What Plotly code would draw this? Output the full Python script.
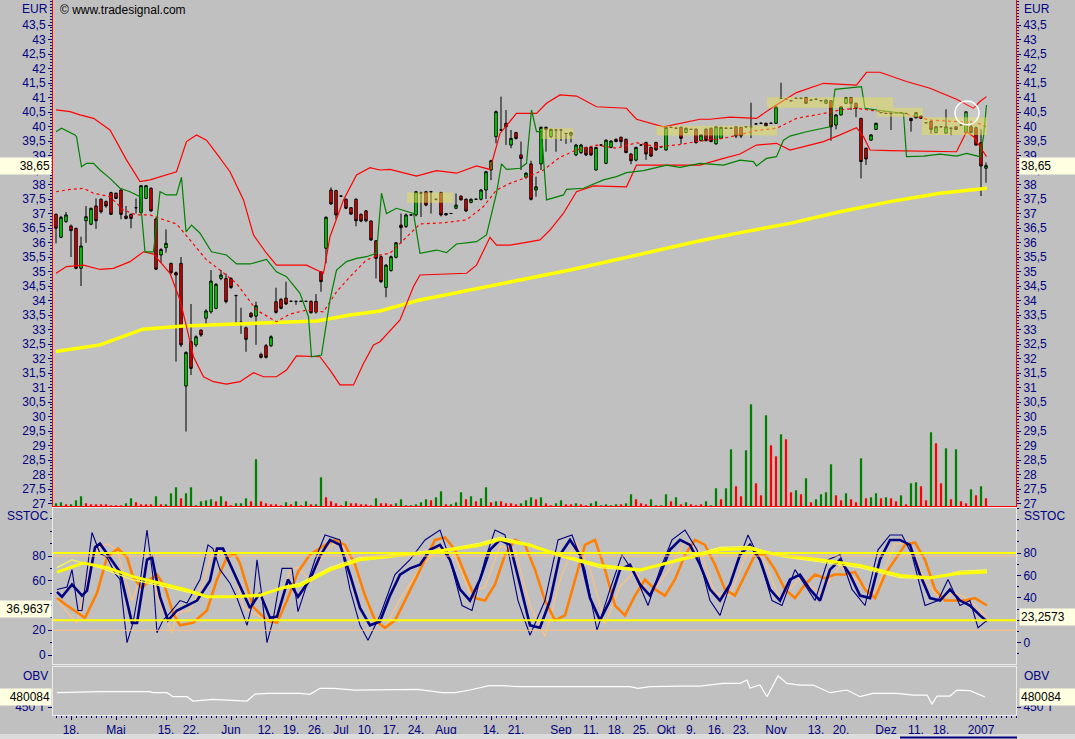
import pandas as pd
import plotly.graph_objects as go

# ---------------- data ----------------
holidays = ["2006-04-14", "2006-04-17", "2006-12-25", "2006-12-26", "2007-01-01"]
trading_days = [d for d in pd.bdate_range("2006-04-11", "2007-01-03")
                if d.strftime("%Y-%m-%d") not in holidays]
day_index = list(range(len(trading_days)))

opens = [36.97, 36.18, 36.72, 36.57, 36.49, 35.11, 36.75, 36.63, 37.26, 37.49,
         37.41, 37.72, 37.70, 37.81, 36.91, 36.97, 37.20, 37.03, 37.52, 37.87,
         36.81, 35.57, 35.82, 35.28, 34.96, 35.28, 31.05, 32.58, 32.47, 32.98,
         33.39, 33.61, 33.73, 34.76, 34.76, 34.76, 34.17, 33.25, 33.06, 33.56,
         33.46, 32.14, 32.44, 32.44, 33.96, 34.04, 34.08, 33.97, 33.97, 33.97,
         33.97, 33.97, 33.97, 34.99, 35.80, 37.81, 37.79, 37.60, 37.49, 37.20,
         37.49, 36.97, 37.09, 36.74, 36.06, 35.51, 34.45, 35.03, 35.49, 36.60,
         36.55, 36.95, 36.95, 37.70, 37.75, 37.75, 37.49, 37.72, 37.00, 37.00,
         37.18, 37.60, 37.49, 37.38, 37.49, 37.49, 37.81, 38.50, 39.65, 39.88,
         40.11, 39.36, 39.79, 39.02, 38.25, 38.71, 37.81, 38.71, 39.97, 39.65,
         39.88, 39.88, 39.76, 39.70, 39.02, 39.10, 39.28, 39.28, 38.50, 39.36,
         38.73, 39.28, 39.56, 39.63, 39.56, 39.05, 38.84, 39.36, 39.45, 39.28,
         39.45, 39.30, 39.19, 39.97, 39.94, 39.97, 39.79, 39.90, 39.91, 39.51,
         39.91, 39.94, 39.40, 39.59, 39.94, 39.94, 39.99, 39.97, 39.99, 39.99,
         40.09, 40.11, 40.11, 40.11, 40.11, 40.97, 40.94, 40.89, 40.97, 40.97,
         41.00, 40.91, 40.94, 40.89, 40.80, 40.89, 40.05, 40.40, 40.80, 41.00,
         40.80, 40.28, 39.25, 39.53, 39.90, 40.48, 40.45, 40.45, 40.48, 40.48,
         40.45, 40.28, 40.30, 40.36, 40.13, 40.17, 39.79, 39.99, 39.77, 39.94,
         39.99, 40.05, 39.79, 39.99, 39.96, 39.44, 38.56]
highs = [37.00, 36.92, 37.05, 36.62, 36.50, 36.20, 37.26, 37.20, 37.52, 37.52,
         37.45, 37.75, 37.72, 37.83, 37.26, 37.00, 37.52, 37.98, 37.98, 37.90,
         36.85, 35.80, 36.45, 35.30, 35.00, 35.50, 32.25, 33.88, 32.80, 33.00,
         33.70, 35.05, 34.60, 35.05, 34.93, 34.80, 34.20, 33.75, 33.10, 33.60,
         33.96, 32.20, 32.50, 32.80, 34.44, 34.08, 34.65, 34.00, 33.98, 33.98,
         33.98, 34.00, 34.22, 35.00, 36.90, 37.90, 37.82, 37.62, 37.52, 37.22,
         37.52, 37.00, 37.12, 36.76, 36.08, 35.55, 35.25, 35.55, 36.02, 37.00,
         37.00, 36.97, 37.78, 37.75, 37.78, 37.78, 37.50, 37.75, 37.02, 37.02,
         37.69, 37.62, 37.52, 37.52, 37.51, 37.84, 38.47, 38.85, 40.55, 41.03,
         40.57, 39.88, 39.82, 39.48, 38.42, 38.82, 38.27, 40.00, 40.00, 39.92,
         39.90, 39.90, 39.78, 39.82, 39.40, 39.40, 39.30, 39.30, 39.30, 39.38,
         39.55, 39.52, 39.58, 39.65, 39.58, 39.08, 39.30, 39.38, 39.47, 39.30,
         39.47, 39.32, 39.99, 39.99, 39.96, 40.00, 39.96, 39.92, 39.93, 39.73,
         39.93, 39.96, 40.01, 39.99, 39.96, 39.96, 40.01, 39.99, 40.01, 40.82,
         40.11, 40.13, 40.13, 40.13, 40.70, 41.51, 40.96, 40.91, 40.99, 40.99,
         41.02, 40.93, 40.96, 40.91, 40.93, 40.91, 40.42, 40.70, 41.02, 41.02,
         40.82, 40.30, 39.27, 39.73, 40.13, 40.50, 40.47, 40.47, 40.50, 40.50,
         40.47, 40.30, 40.50, 40.38, 40.15, 40.19, 40.01, 40.01, 40.59, 39.96,
         40.01, 40.07, 40.53, 40.20, 40.00, 39.90, 38.76]
lows = [35.97, 36.15, 36.68, 35.50, 35.08, 34.50, 35.99, 36.60, 36.47, 37.00,
        37.20, 36.95, 37.50, 36.80, 36.80, 36.49, 37.00, 37.00, 37.50, 37.05,
        35.05, 35.30, 35.65, 34.90, 31.89, 32.40, 29.48, 31.43, 32.40, 32.75,
        33.15, 33.55, 33.70, 34.70, 33.90, 34.40, 33.24, 32.85, 32.23, 33.40,
        32.47, 32.00, 32.00, 32.40, 33.55, 33.70, 33.85, 33.95, 33.85, 33.96,
        33.96, 33.55, 33.55, 34.30, 35.28, 37.30, 36.80, 37.58, 37.15, 36.95,
        36.56, 36.70, 36.70, 36.05, 34.76, 34.60, 34.11, 35.00, 35.45, 35.97,
        36.50, 36.93, 36.90, 36.88, 37.25, 37.00, 37.45, 36.90, 36.93, 36.98,
        37.15, 37.45, 37.05, 37.35, 37.47, 37.45, 37.50, 38.15, 39.42, 39.85,
        39.36, 39.25, 39.55, 38.50, 38.20, 37.45, 37.58, 38.50, 39.13, 39.60,
        39.13, 39.50, 39.40, 39.45, 38.98, 39.05, 38.98, 38.98, 38.48, 39.34,
        38.70, 39.25, 39.46, 39.30, 39.08, 38.70, 38.80, 39.34, 38.85, 38.95,
        39.17, 39.28, 39.17, 39.95, 39.92, 39.40, 39.77, 39.88, 39.42, 39.49,
        39.49, 39.46, 39.38, 39.57, 39.92, 39.92, 39.60, 39.60, 39.97, 39.60,
        40.07, 40.09, 40.00, 40.09, 40.09, 40.95, 40.92, 40.87, 40.95, 40.95,
        40.78, 40.89, 40.92, 40.87, 40.78, 39.51, 39.90, 40.38, 40.78, 40.57,
        40.32, 38.21, 38.67, 39.51, 39.88, 40.46, 40.43, 39.88, 40.46, 40.46,
        40.43, 39.82, 40.28, 40.26, 40.11, 39.75, 39.77, 39.97, 39.75, 39.70,
        39.88, 40.03, 39.77, 39.77, 39.34, 37.60, 38.06]
closes = [36.49, 36.87, 36.95, 36.41, 35.11, 35.88, 36.89, 37.18, 36.75, 37.06,
          37.26, 36.97, 37.52, 36.97, 36.83, 36.83, 37.20, 37.96, 37.96, 37.09,
          35.08, 35.76, 35.97, 34.96, 34.88, 32.47, 32.21, 31.66, 32.75, 32.81,
          33.64, 34.67, 34.56, 34.88, 33.96, 34.45, 34.17, 33.25, 32.66, 33.44,
          33.82, 32.04, 32.04, 32.75, 33.59, 33.73, 33.88, 33.97, 33.97, 33.97,
          33.97, 33.58, 33.60, 34.65, 36.87, 37.33, 36.95, 37.60, 37.18, 36.98,
          36.75, 36.74, 36.75, 36.09, 35.45, 34.65, 35.22, 35.51, 35.99, 36.51,
          36.95, 36.95, 37.75, 37.70, 37.29, 37.75, 37.49, 36.95, 36.95, 37.00,
          37.29, 37.47, 37.09, 37.49, 37.49, 37.81, 38.44, 38.82, 40.51, 39.88,
          39.99, 39.59, 39.59, 38.90, 38.39, 37.49, 37.92, 39.97, 39.90, 39.90,
          39.88, 39.88, 39.76, 39.79, 39.36, 39.36, 39.02, 39.02, 39.28, 39.36,
          39.53, 39.50, 39.48, 39.48, 39.10, 38.82, 39.28, 39.36, 39.05, 38.98,
          39.19, 39.30, 39.97, 39.97, 39.94, 39.59, 39.94, 39.90, 39.44, 39.71,
          39.51, 39.48, 39.99, 39.97, 39.94, 39.94, 39.67, 39.67, 39.99, 39.99,
          40.09, 40.11, 40.02, 40.11, 40.68, 40.97, 40.94, 40.89, 40.97, 40.97,
          40.80, 40.91, 40.94, 40.89, 40.91, 39.99, 40.40, 40.68, 41.00, 40.80,
          40.63, 38.79, 38.88, 39.71, 40.11, 40.48, 40.45, 40.45, 40.48, 40.48,
          40.45, 40.20, 40.48, 40.28, 40.13, 39.90, 39.99, 39.99, 39.99, 39.94,
          39.90, 40.05, 40.51, 39.79, 39.36, 38.64, 38.65]

# volume (thousand shares, relative)
volume = [27, 37, 17, 17, 57, 97, 27, 17, 17, 17,
          17, 7, 7, 7, 27, 77, 37, 17, 17, 17,
          97, 17, 17, 127, 187, 77, 127, 187, 7, 47,
          57, 67, 47, 97, 47, 7, 27, 27, 77, 47,
          467, 47, 27, 17, 17, 7, 37, 17, 47, 7,
          47, 17, 17, 287, 87, 47, 27, 7, 47, 27,
          27, 17, 17, 7, 77, 27, 27, 17, 27, 67,
          7, 7, 17, 37, 67, 57, 87, 147, 17, 17,
          37, 137, 67, 97, 47, 77, 187, 37, 47, 47,
          27, 27, 17, 27, 57, 87, 67, 87, 27, 7,
          27, 57, 17, 17, 27, 17, 7, 27, 47, 7,
          17, 7, 17, 17, 27, 117, 67, 27, 17, 67,
          7, 7, 117, 47, 87, 17, 37, 17, 7, 17,
          47, 7, 177, 67, 177, 567, 197, 97, 557, 1017,
          227, 107, 907, 607, 497, 717, 667, 137, 157, 117,
          277, 37, 67, 117, 137, 417, 107, 57, 127, 67,
          37, 477, 77, 87, 127, 77, 87, 77, 47, 107,
          17, 227, 237, 197, 57, 737, 627, 227, 577, 67,
          567, 47, 27, 167, 107, 197, 77]
volume_dir = ("ggrgggrrrr" "rrrrggrrrr" "grgggrgggg" "ggrgrrgggr" "grrrrrgrgr"
              "grggrrrrgr" "rrrrgrrrgg" "gggggrggrg" "ggrgrggrgr" "rrrgggrgrr"
              "ggrrgrrggg" "gggrggrrrg" "gggrgrgrrr" "gggrggrrgg" "rrgrrgrrgr"
              "grggggrrgr" "rgrggrgrrg" "rggrrgrrgr" "grrgrgr")

# 200-day average
sma_x = [0, 8.8, 17.4, 25.4, 38.8, 52.2, 58.8, 64.8, 72.8, 82.8, 92.8, 102.8,
         116.2, 128.8, 136.8, 146.8, 156.8, 166.8, 176.8, 186.2]
sma_v = [32.24, 32.47, 33.01, 33.12, 33.21, 33.29, 33.50, 33.64, 34.02, 34.36,
         34.71, 35.05, 35.57, 36.06, 36.34, 36.66, 37.06, 37.41, 37.70, 37.87]

# Bollinger bands
bb_up_x = [0, 2.8, 4.8, 7.5, 10.8, 14.1, 16.8, 18.8, 24.1, 26.1, 28.1, 30.1, 32.1,
           34.8, 37.5, 39.5, 42.1, 44.1, 50.1, 53.5, 54.8, 57.5, 60.1, 62.8, 64.8,
           66.8, 72.1, 76.1, 80.1, 84.1, 86.8, 88.8, 92.1, 96.1, 98.1, 100.8, 104.1,
           108.1, 114.1, 116.1, 121.5, 124.8, 128.8, 130.8, 134.8, 140.1, 143.5,
           148.1, 153.5, 160.1, 162.1, 164.8, 170.1, 174.8, 180.1, 183.5, 184.8, 186.1]
bb_up_v = [40.57, 40.51, 40.40, 40.28, 39.88, 38.85, 38.10, 38.16, 38.44, 39.48,
           39.71, 39.53, 39.07, 38.44, 37.47, 36.26, 35.63, 35.22, 35.22, 34.94,
           36.20, 37.47, 38.33, 38.58, 38.50, 38.52, 38.29, 38.48, 38.39, 38.64,
           38.52, 39.76, 40.45, 40.45, 40.80, 41.09, 41.05, 40.68, 40.63, 40.25,
           39.99, 40.11, 40.25, 40.25, 40.32, 40.28, 40.68, 41.17, 41.49, 41.43,
           41.87, 41.87, 41.55, 41.32, 40.94, 40.63, 40.86, 41.03]
bb_lo_x = [0, 2.1, 5.5, 8.8, 11.5, 14.8, 17.5, 19.5, 22.8, 24.8, 26.1, 27.5, 29.5,
           31.5, 34.1, 36.8, 39.5, 41.5, 44.1, 46.1, 48.1, 52.8, 54.8, 56.8, 59.5,
           61.5, 63.5, 64.8, 68.8, 71.5, 72.8, 82.1, 84.1, 86.8, 88.1, 90.8, 93.5,
           96.8, 98.8, 101.5, 104.1, 107.5, 114.1, 116.1, 122.8, 128.8, 133.5,
           136.8, 140.1, 144.1, 146.8, 153.5, 156.8, 160.1, 161.5, 162.8, 166.8,
           180.1, 182.1, 183.5, 184.8, 186.1]
bb_lo_v = [34.94, 35.17, 35.22, 35.07, 35.11, 35.34, 35.68, 35.60, 34.94, 34.02,
           33.10, 32.06, 31.37, 31.20, 31.12, 31.20, 31.51, 31.37, 31.37, 31.60,
           32.09, 32.06, 31.60, 31.09, 31.09, 31.83, 32.47, 32.58, 33.33, 34.48,
           34.88, 34.94, 35.22, 36.18, 35.91, 35.91, 35.99, 36.09, 36.43, 37.01,
           37.75, 37.95, 37.92, 38.67, 38.67, 38.67, 38.90, 39.05, 39.36, 39.42,
           39.19, 39.48, 39.71, 39.96, 39.65, 39.19, 39.17, 39.13, 39.82, 39.65,
           39.30, 38.96]
bb_mid_x = [0, 2.8, 5.5, 7.5, 10.8, 13.5, 16.1, 18.8, 20.8, 24.1, 26.8, 30.1, 32.8,
            36.1, 40.1, 44.1, 46.8, 50.1, 53.5, 56.1, 58.8, 62.1, 64.8, 66.8, 72.8,
            77.5, 82.1, 85.5, 88.1, 90.8, 94.1, 97.5, 100.8, 104.1, 108.1, 112.1,
            116.1, 120.1, 124.1, 128.8, 133.5, 140.1, 144.1, 148.1, 153.5, 156.8,
            160.1, 164.1, 169.5, 174.8, 180.1, 184.1, 186.1]
bb_mid_v = [37.75, 37.83, 37.87, 37.70, 37.58, 37.12, 36.95, 36.95, 36.83, 36.64,
            36.09, 35.40, 35.05, 34.59, 33.67, 33.27, 33.53, 33.67, 33.61, 34.30,
            34.82, 35.40, 35.57, 35.63, 36.64, 36.68, 36.78, 37.24, 37.81, 38.04,
            38.25, 38.50, 38.94, 39.19, 39.36, 39.25, 39.44, 39.30, 39.36, 39.50,
            39.59, 39.86, 39.94, 40.28, 40.45, 40.57, 40.63, 40.53, 40.45, 40.22,
            40.17, 40.13, 39.99]

# green trailing line
grn_x = [0, 1.1, 3.8, 4.1, 5.1, 6.1, 7.5, 8.8, 10.8, 12.8, 14.8, 16.8, 17.8, 19.5,
         20.8, 22.1, 24.1, 25.1, 26.0, 27.1, 28.8, 31.1, 34.1, 36.1, 38.8, 42.1,
         44.1, 46.1, 48.8, 50.5, 51.1, 53.1, 54.8, 56.1, 58.1, 60.1, 62.1, 64.1,
         65.1, 66.1, 68.1, 71.5, 72.8, 76.1, 78.1, 80.1, 84.1, 86.1, 88.1, 89.1,
         90.1, 92.8, 94.1, 95.1, 96.1, 97.1, 98.1, 101.5, 102.1, 105.5, 109.5,
         112.1, 114.1, 117.5, 122.1, 124.8, 128.8, 133.5, 136.8, 139.5, 140.1,
         142.1, 144.1, 145.5, 146.8, 150.1, 154.8, 155.8, 161.1, 161.8, 164.1,
         169.5, 170.1, 173.5, 176.8, 180.1, 182.1, 184.8, 185.5, 186.1]
grn_v = [39.82, 39.94, 39.71, 39.65, 38.61, 38.73, 38.73, 38.50, 38.21, 37.87,
         37.75, 37.58, 35.68, 35.68, 37.75, 37.64, 37.64, 38.25, 36.37, 36.60,
         36.32, 35.68, 35.57, 35.26, 35.26, 35.42, 34.99, 34.82, 34.25, 33.44,
         32.06, 32.12, 34.02, 35.05, 35.34, 35.45, 35.51, 35.63, 37.70, 37.00,
         37.18, 37.00, 35.63, 35.74, 35.65, 35.95, 36.03, 36.26, 37.70, 38.71,
         38.52, 38.56, 38.73, 40.57, 39.82, 39.82, 37.47, 37.64, 37.83, 37.87,
         38.16, 38.27, 38.41, 38.48, 38.67, 38.59, 38.73, 38.67, 38.84, 38.79,
         38.64, 38.90, 38.96, 39.53, 39.67, 39.82, 39.99, 41.28, 41.37, 40.63,
         40.57, 40.45, 38.96, 38.98, 39.05, 38.98, 39.07, 38.96, 39.65, 40.74]

# highlighted zones: start idx, end idx, low, high
zone_x0 = [70.2, 97.1, 120.1, 142.2, 164.2, 173.2]
zone_x1 = [79.4, 103.5, 144.2, 167.4, 173.4, 186.2]
zone_lo = [37.37, 39.57, 39.69, 40.65, 40.34, 39.71]
zone_hi = [37.72, 39.94, 40.03, 41.01, 40.65, 40.32]

# stochastic panel (left scale)
k_slow_x = [0.2, 1.2, 3.2, 5.2, 6.2, 7.8, 8.8, 10.8, 12.8, 15.2, 16.2, 18.2, 19.2, 20.8,
            22.4, 24.2, 28.2, 30.8, 32.2, 33.4, 36.8, 38.8, 40.8, 42.8, 44.2, 46.4, 48.4,
            50.8, 52.8, 54.8, 56.8, 58.8, 60.8, 62.8, 64.8, 66.8, 68.8, 70.8, 72.8, 74.8,
            76.8, 78.8, 80.8, 82.8, 84.8, 86.8, 88.8, 90.8, 92.8, 94.8, 96.8, 98.8, 100.8,
            102.8, 104.8, 106.8, 108.8, 110.8, 112.8, 114.8, 116.8, 118.8, 120.8, 122.8,
            124.8, 126.8, 128.8, 130.8, 132.8, 134.8, 136.8, 138.8, 140.8, 142.8, 144.8,
            146.8, 148.8, 150.8, 152.8, 154.8, 156.8, 158.8, 160.8, 162.8, 164.8, 166.8,
            168.8, 170.8, 172.8, 174.8, 176.8, 178.8, 180.8, 182.8, 184.8, 186.2]
k_slow_v = [51, 47, 57, 48, 52, 87, 90, 78, 67, 26, 26, 77, 79, 47, 28, 36, 44, 60, 86, 86,
            55, 38, 50, 30, 31, 61, 47,
            61, 80, 93, 89, 65, 38, 24, 27, 48, 65, 70, 73, 85, 89, 77, 53, 44, 61, 85, 93,
            89, 57, 24, 22, 44, 81, 93, 81, 46, 28, 44, 69, 73, 57, 48, 65, 85, 93, 89, 73,
            53, 44, 57, 81, 89, 77, 53, 44, 61, 65, 53, 44, 69, 77, 65, 48, 46, 77, 93, 93,
            89, 65, 46, 44, 53, 44, 40, 32, 27]
k_fast_x = [0.2, 2.2, 3.2, 4.4, 5.2, 7.2, 8.8, 10.2, 11.8, 12.8, 14.2, 15.4, 16.8, 18.2,
            19.4, 20.2, 21.4, 22.8, 24.8, 26.2, 28.8, 30.4, 31.4, 32.8, 34.8, 36.2, 38.2,
            39.4, 40.2, 41.2, 42.2, 43.4, 45.2, 47.2, 48.4,
            51.8, 53.8, 56.8, 58.8, 60.8, 62.4, 64.8, 67.8, 70.8, 73.8, 76.8, 78.8, 81.2,
            83.2, 85.8, 87.8, 89.8, 92.4, 94.8, 97.8, 100.4, 103.2, 105.8, 108.2, 110.8,
            113.2, 115.8, 118.4, 120.8, 123.2, 125.8, 128.2, 130.8, 132.8, 135.8, 138.4,
            140.8, 143.2, 145.2, 147.8, 149.8, 151.8, 154.4, 156.8, 159.2, 161.8, 164.4,
            166.8, 169.2, 171.2, 173.8, 176.4, 178.4, 180.8, 182.8, 184.4, 186.2]
k_fast_v = [53, 55, 69, 36, 36, 99, 82, 79, 66, 61, 10, 26, 58, 101, 63, 18, 28, 34, 44, 42,
            61, 89, 86, 69, 58, 46, 24, 44, 77, 47, 10, 28, 70, 70, 35,
            77, 97, 93, 53, 24, 12, 32, 65, 77, 93, 101, 77, 40, 36, 77, 101, 97, 44, 16, 44,
            93, 97, 69, 20, 53, 81, 65, 40, 69, 93, 101, 85, 44, 32, 69, 97, 77, 44, 40, 69,
            57, 44, 77, 81, 53, 40, 85, 97, 97, 81, 40, 44, 61, 40, 44, 22, 28]
d_slow_x = [0.2, 2.2, 5.8, 8.2, 10.2, 12.4, 14.2, 15.4, 17.2, 18.8, 20.2, 21.8, 23.4, 24.8,
            27.4, 30.2, 32.2, 34.2, 35.8, 36.8, 39.4, 42.2, 44.2, 46.2, 48.4,
            50.8, 53.8, 55.8, 57.8, 59.8, 61.8, 63.8, 65.8, 67.8, 69.8, 71.8, 73.8, 75.8,
            77.8, 79.8, 81.8, 83.8, 85.8, 87.8, 89.8, 91.8, 93.8, 95.8, 97.8, 99.8, 101.8,
            103.8, 105.8, 107.8, 109.8, 111.8, 113.8, 115.8, 117.8, 119.8, 121.8, 123.8,
            125.8, 127.8, 129.8, 131.8, 133.8, 135.8, 137.8, 139.8, 141.8, 143.8, 145.8,
            147.8, 149.8, 151.8, 153.8, 155.8, 157.8, 159.8, 161.8, 163.8, 165.8, 167.8,
            169.8, 171.8, 173.8, 175.8, 177.8, 179.8, 181.8, 183.8, 186.2]
d_slow_v = [46, 40, 30, 50, 79, 86, 79, 63, 54, 61, 65, 55, 34, 24, 26, 36, 61, 79, 82, 74,
            39, 28, 26, 44, 67,
            81, 89, 93, 89, 73, 48, 28, 22, 28, 44, 61, 77, 93, 95, 85, 65, 46, 44, 57, 81,
            93, 89, 69, 44, 28, 32, 61, 89, 93, 69, 40, 32, 48, 61, 53, 48, 61, 81, 93, 89,
            73, 53, 48, 65, 81, 81, 69, 53, 46, 57, 65, 62, 65, 65, 67, 53, 46, 65, 77, 89,
            91, 77, 53, 44, 44, 44, 46, 40]
d_fast_x = [0.2, 4.2, 7.2, 8.8, 10.2, 12.2, 15.2, 16.8, 19.4, 21.4, 23.2, 24.2, 26.8, 29.4,
            31.4, 34.2, 36.2, 37.4, 40.2, 42.8, 44.8, 46.8, 48.4,
            50.8, 53.8, 56.8, 59.8, 62.8, 65.8, 68.8, 72.8, 76.8, 79.8, 82.8, 85.8, 88.8,
            91.8, 94.8, 97.8, 100.8, 103.8, 106.8, 109.8, 112.8, 115.8, 118.8, 122.8, 125.8,
            128.8, 131.8, 134.8, 138.8, 141.8, 144.8, 148.8, 152.8, 156.8, 160.8, 163.8,
            167.8, 170.8, 173.8, 176.8, 179.8, 182.8, 186.2]
d_fast_v = [44, 26, 77, 87, 90, 85, 44, 61, 59, 36, 18, 34, 36, 58, 85, 82, 61, 39, 32, 28,
            36, 69, 71,
            60, 85, 92, 70, 35, 22, 45, 70, 88, 80, 50, 55, 88, 85, 40, 15, 60, 92, 70, 25,
            55, 68, 48, 70, 92, 85, 50, 48, 88, 75, 45, 62, 50, 72, 58, 50, 90, 90, 60, 45,
            50, 45, 30]
# stochastic panel (right scale)
avg_thick_x = [0.2, 5.4, 10.2, 15.4, 20.8, 26.2, 30.2, 35.4, 40.8, 45.4, 48.8, 54.8, 60.8,
               68.8, 78.8, 84.8, 88.8, 94.8, 100.8, 108.8, 116.8, 124.8, 132.8, 138.8,
               144.8, 152.8, 160.8, 168.8, 174.8, 180.8, 186.2]
avg_thick_v = [63, 71, 67, 59, 53, 47, 41, 41, 42.5, 49, 51, 65, 74, 78, 83, 87, 92, 87, 78,
               69, 65, 74, 83, 84, 78, 74, 69, 60, 58, 62, 63]
avg_thin_x = [0.2, 3.2, 8.8, 15.4, 20.8, 26.2, 30.2, 35.4, 40.8, 45.4, 48.8, 54.8, 60.8,
              68.8, 78.8, 84.8, 88.8, 94.8, 100.8, 108.8, 116.8, 124.8, 132.8, 138.8,
              144.8, 152.8, 160.8, 168.8, 174.8, 180.8, 186.2]
avg_thin_v = [67, 74, 67, 56, 51, 45, 41, 41, 41, 50, 53, 67, 76, 79, 84, 89, 94, 88, 77, 67,
              64, 75, 85, 86, 77, 72, 67, 58, 57, 64, 65]

# OBV
obv_x = [0.2, 8.8, 18.8, 19.4, 22.2, 23.4, 26.2, 27.4, 31.4, 35.4, 38.2, 39.8, 42.2, 48.8,
         50.8, 52.8, 55.6, 59.8, 68.8, 72.4, 77.2, 79.8, 82.8, 86.6, 89.4, 92.8, 98.8,
         108.8, 114.8, 116.4, 118.8, 124.8, 128.8, 133.4, 136.8, 138.2, 138.8, 140.8,
         142.2, 144.4, 146.2, 148.8, 151.4, 154.8, 158.2, 160.8, 163.4, 168.2, 171.4,
         174.2, 175.2, 176.2, 178.8, 180.2, 182.8, 185.8]
obv_v = [493000, 496000, 496000, 493000, 493000, 481000, 481000, 468000, 473000, 471000,
         468000, 489000, 491000, 491000, 488000, 506000, 506000, 501000, 501000, 503000,
         493000, 493000, 501000, 514000, 514000, 511000, 511000, 511000, 511000, 506000,
         511000, 513000, 513000, 521000, 521000, 531000, 507000, 516000, 481000, 543000,
         521000, 516000, 516000, 493000, 501000, 481000, 491000, 491000, 486000, 486000,
         459000, 483000, 483000, 501000, 499000, 480084]

last_price = 38.65
last_stoch_left = 36.9637
last_stoch_right = 23.2573
last_obv = 480084

tick_dates = ["2006-04-18", "2006-05-01", "2006-05-15", "2006-05-22", "2006-06-01",
              "2006-06-12", "2006-06-19", "2006-06-26", "2006-07-03", "2006-07-10",
              "2006-07-17", "2006-07-24", "2006-08-01", "2006-08-14", "2006-08-21",
              "2006-09-01", "2006-09-11", "2006-09-18", "2006-09-25", "2006-10-02",
              "2006-10-09", "2006-10-16", "2006-10-23", "2006-11-01", "2006-11-13",
              "2006-11-20", "2006-12-01", "2006-12-11", "2006-12-18", "2007-01-02"]
tick_texts = ["18.", "Mai", "15.", "22.", "Jun", "12.", "19.", "26.", "Jul", "10.",
              "17.", "24.", "Aug", "14.", "21.", "Sep", "11.", "18.", "25.", "Okt",
              "9.", "16.", "23.", "Nov", "13.", "20.", "Dez", "11.", "18.", "2007"]

# ---------------- figure ----------------
NAVY = "#000080"
BG = "#c0c0c0"
FONT = "Liberation Sans, Arial, sans-serif"
PANEL_LINE = "#ececec"

pos_of = {d.strftime("%Y-%m-%d"): i for i, d in enumerate(trading_days)}
x_tickvals = [pos_of[d] for d in tick_dates]

price_ticks = [27 + 0.5 * k for k in range(34)]
price_labels = [("%g" % v).replace(".", ",") for v in price_ticks]

X_RANGE = [-0.6, 192.0]
PRICE_RANGE = [26.914, 44.362]
STOCH_L_RANGE = [-7.27, 118.8]
STOCH_R_RANGE = [-19.0, 120.2]
OBV_RANGE = [426084, 570084]
VOL_RANGE = [0, 5060]

fig = go.Figure()

fig.add_trace(go.Bar(x=day_index, y=volume, width=0.45,
                     marker=dict(color=["#008000" if c == "g" else "#ff0000" for c in volume_dir],
                                 line=dict(width=0)),
                     xaxis="x", yaxis="y7", hoverinfo="skip", showlegend=False))

fig.add_trace(go.Scatter(x=sma_x, y=sma_v, mode="lines", line=dict(color="#ffff00", width=3.5),
                         xaxis="x", yaxis="y", hoverinfo="skip", showlegend=False))
fig.add_trace(go.Scatter(x=bb_up_x, y=bb_up_v, mode="lines", line=dict(color="#ff0000", width=1.2),
                         xaxis="x", yaxis="y", hoverinfo="skip", showlegend=False))
fig.add_trace(go.Scatter(x=bb_lo_x, y=bb_lo_v, mode="lines", line=dict(color="#ff0000", width=1.2),
                         xaxis="x", yaxis="y", hoverinfo="skip", showlegend=False))
fig.add_trace(go.Scatter(x=bb_mid_x, y=bb_mid_v, mode="lines",
                         line=dict(color="#ff0000", width=1.2, dash="3px,3px"),
                         xaxis="x", yaxis="y", hoverinfo="skip", showlegend=False))
fig.add_trace(go.Scatter(x=grn_x, y=grn_v, mode="lines", line=dict(color="#008000", width=1.2),
                         xaxis="x", yaxis="y", hoverinfo="skip", showlegend=False))

fig.add_trace(go.Candlestick(x=day_index, open=opens, high=highs, low=lows, close=closes,
                             increasing=dict(fillcolor="#00ff00", line=dict(color="#000000", width=1)),
                             decreasing=dict(fillcolor="#ff0000", line=dict(color="#000000", width=1)),
                             whiskerwidth=0, xaxis="x", yaxis="y", hoverinfo="skip",
                             showlegend=False))
fig.add_trace(go.Scatter(x=[None], y=[None], xaxis="x", yaxis="y2", showlegend=False,
                         hoverinfo="skip"))

fig.add_trace(go.Scatter(x=avg_thin_x, y=avg_thin_v, mode="lines",
                         line=dict(color="#ffff40", width=1.2),
                         xaxis="x2", yaxis="y4", hoverinfo="skip", showlegend=False))
fig.add_trace(go.Scatter(x=avg_thick_x, y=avg_thick_v, mode="lines",
                         line=dict(color="#ffff00", width=3),
                         xaxis="x2", yaxis="y4", hoverinfo="skip", showlegend=False))
fig.add_trace(go.Scatter(x=d_fast_x, y=d_fast_v, mode="lines",
                         line=dict(color="#ffc080", width=1.2),
                         xaxis="x2", yaxis="y3", hoverinfo="skip", showlegend=False))
fig.add_trace(go.Scatter(x=d_slow_x, y=d_slow_v, mode="lines",
                         line=dict(color="#ff8000", width=2.6),
                         xaxis="x2", yaxis="y3", hoverinfo="skip", showlegend=False))
fig.add_trace(go.Scatter(x=k_fast_x, y=k_fast_v, mode="lines",
                         line=dict(color=NAVY, width=1.1),
                         xaxis="x2", yaxis="y3", hoverinfo="skip", showlegend=False))
fig.add_trace(go.Scatter(x=k_slow_x, y=k_slow_v, mode="lines",
                         line=dict(color=NAVY, width=2.6),
                         xaxis="x2", yaxis="y3", hoverinfo="skip", showlegend=False))

fig.add_trace(go.Scatter(x=obv_x, y=obv_v, mode="lines", line=dict(color="#ffffff", width=1.2),
                         xaxis="x3", yaxis="y5", hoverinfo="skip", showlegend=False))
fig.add_trace(go.Scatter(x=[None], y=[None], xaxis="x3", yaxis="y6", showlegend=False,
                         hoverinfo="skip"))

tickfont = dict(family=FONT, size=12, color=NAVY)

def yax(**kw):
    base = dict(showgrid=False, zeroline=False, fixedrange=True, tickfont=tickfont,
                ticks="outside", ticklen=4, tickcolor=NAVY, tickwidth=1)
    base.update(kw)
    return base

price_dom = [1 - 506 / 715, 1]
stoch_dom = [(715 - 664) / 715, (715 - 508) / 715]
obv_dom = [0, (715 - 667) / 715]

fig.update_layout(
    width=1075, height=739,
    margin=dict(l=53, r=59, t=0, b=24),
    paper_bgcolor=BG, plot_bgcolor=BG,
    separators=",.",
    hovermode=False,
    barmode="overlay",
    showlegend=False,
    font=dict(family=FONT, size=12, color=NAVY),
    xaxis=dict(domain=[0, 1], anchor="y", range=X_RANGE, showticklabels=False, ticks="",
               showgrid=False, zeroline=False, showline=True, linecolor="#ff0000", linewidth=1,
               rangeslider=dict(visible=False), fixedrange=True),
    xaxis2=dict(domain=[0, 1], anchor="y3", range=X_RANGE, matches="x", showticklabels=False,
                ticks="", showgrid=False, zeroline=False, showline=True, linecolor=PANEL_LINE,
                mirror=True, fixedrange=True),
    xaxis3=dict(domain=[0, 1], anchor="y5", range=X_RANGE, matches="x",
                tickmode="array", tickvals=x_tickvals, ticktext=tick_texts,
                ticks="outside", ticklen=4, tickcolor=NAVY, tickfont=tickfont,
                minor=dict(tickmode="linear", tick0=0, dtick=1, ticklen=2, tickcolor=NAVY,
                           ticks="outside"),
                showgrid=False, zeroline=False, showline=True, linecolor=PANEL_LINE,
                mirror=True, fixedrange=True),
    yaxis=yax(domain=price_dom, anchor="x", range=PRICE_RANGE, side="left",
              tickmode="array", tickvals=price_ticks, ticktext=price_labels,
              minor=dict(tickmode="linear", tick0=0, dtick=0.1, ticklen=2, tickcolor=NAVY,
                         ticks="outside"),
              showline=True, linecolor="#ff0000", linewidth=1),
    yaxis2=yax(domain=price_dom, anchor="x", overlaying="y", range=PRICE_RANGE, side="right",
               tickmode="array", tickvals=price_ticks, ticktext=price_labels,
               minor=dict(tickmode="linear", tick0=0, dtick=0.1, ticklen=2, tickcolor=NAVY,
                          ticks="outside"),
               showline=True, linecolor="#ff0000", linewidth=1),
    yaxis7=dict(domain=price_dom, anchor="x", overlaying="y", range=VOL_RANGE, visible=False,
                fixedrange=True),
    yaxis3=yax(domain=stoch_dom, anchor="x2", range=STOCH_L_RANGE, side="left",
               tickmode="array", tickvals=[0, 20, 40, 60, 80],
               minor=dict(tickmode="linear", tick0=0, dtick=10, ticklen=2, tickcolor=NAVY,
                          ticks="outside"),
               showline=True, linecolor=PANEL_LINE),
    yaxis4=yax(domain=stoch_dom, anchor="x2", overlaying="y3", range=STOCH_R_RANGE,
               side="right", tickmode="array", tickvals=[-20, 0, 20, 40, 60, 80],
               minor=dict(tickmode="linear", tick0=0, dtick=10, ticklen=2, tickcolor=NAVY,
                          ticks="outside"),
               showline=True, linecolor=PANEL_LINE),
    yaxis5=yax(domain=obv_dom, anchor="x3", range=OBV_RANGE, side="left",
               tickmode="array", tickvals=[450000], ticktext=["450 T"],
               showline=True, linecolor=PANEL_LINE),
    yaxis6=yax(domain=obv_dom, anchor="x3", overlaying="y5", range=OBV_RANGE, side="right",
               tickmode="array", tickvals=[450000], ticktext=["450 T"],
               showline=True, linecolor=PANEL_LINE),
)

W = 963.0

def px(xpix):
    return (xpix - 53) / W

def py(ypix):
    return (715 - ypix) / 715.0

shapes = []
for x0, x1, lo, hi in zip(zone_x0, zone_x1, zone_lo, zone_hi):
    shapes.append(dict(type="rect", xref="x", yref="y", x0=x0, x1=x1, y0=lo, y1=hi,
                       fillcolor="rgba(228,224,84,0.5)", line=dict(width=0), layer="above"))
shapes.append(dict(type="circle", xref="x", yref="y", x0=179.8, x1=184.6, y0=40.06, y1=40.88,
                   fillcolor="rgba(255,255,255,0.15)", line=dict(color="#ffffff", width=1.5),
                   layer="above"))
for lvl in (80, 20):
    shapes.append(dict(type="line", xref="paper", yref="y3", x0=0, x1=1, y0=lvl, y1=lvl,
                       line=dict(color="#ffc080", width=1)))
    shapes.append(dict(type="line", xref="paper", yref="y4", x0=0, x1=1, y0=lvl, y1=lvl,
                       line=dict(color="#ffff00", width=2)))
# bottom scroll strip of the trading window
shapes.append(dict(type="rect", xref="paper", yref="paper", x0=px(0), x1=px(1075),
                   y0=py(739), y1=py(734), fillcolor="#dcdcdc", line=dict(width=0),
                   layer="above"))
shapes.append(dict(type="line", xref="paper", yref="paper", x0=px(900), x1=px(1017),
                   y0=py(737.5), y1=py(737.5), line=dict(color=NAVY, width=2)))
fig.update_layout(shapes=shapes)

ann = []

def box(text, yref, yval, left):
    ann.append(dict(text=text, xref="paper", yref=yref, x=px(52) if left else px(1019),
                    y=yval, xanchor="right" if left else "left", yanchor="middle",
                    showarrow=False, bgcolor="#ffffe1", width=52 if left else 56, height=14,
                    align="right" if left else "left",
                    font=dict(family=FONT, size=12, color="#000000")))

box(("%.2f" % last_price).replace(".", ","), "y", last_price, True)
box(("%.2f" % last_price).replace(".", ","), "y", last_price, False)
box(("%.4f" % last_stoch_left).replace(".", ","), "y3", last_stoch_left, True)
box(("%.4f" % last_stoch_right).replace(".", ","), "y4", last_stoch_right, False)
box(str(last_obv), "y5", last_obv, True)
box(str(last_obv), "y5", last_obv, False)

def label(text, xpix, ypix, anchor, color=NAVY):
    ann.append(dict(text=text, xref="paper", yref="paper", x=px(xpix), y=py(ypix),
                    xanchor=anchor, yanchor="middle", showarrow=False,
                    font=dict(family=FONT, size=12, color=color)))

label("EUR", 50, 9, "right")
label("EUR", 1022, 9, "left")
label("\u00a9 www.tradesignal.com", 58, 10, "left", "#000000")
label("SSTOC", 50, 516, "right")
label("SSTOC", 1022, 516, "left")
label("OBV", 50, 676, "right")
label("OBV", 1022, 676, "left")
fig.update_layout(annotations=ann)

fig.write_html("out.html",
               config={"displayModeBar": False, "staticPlot": True},
               post_script="document.body.style.margin='0px';"
                           "document.body.style.overflow='hidden';")
